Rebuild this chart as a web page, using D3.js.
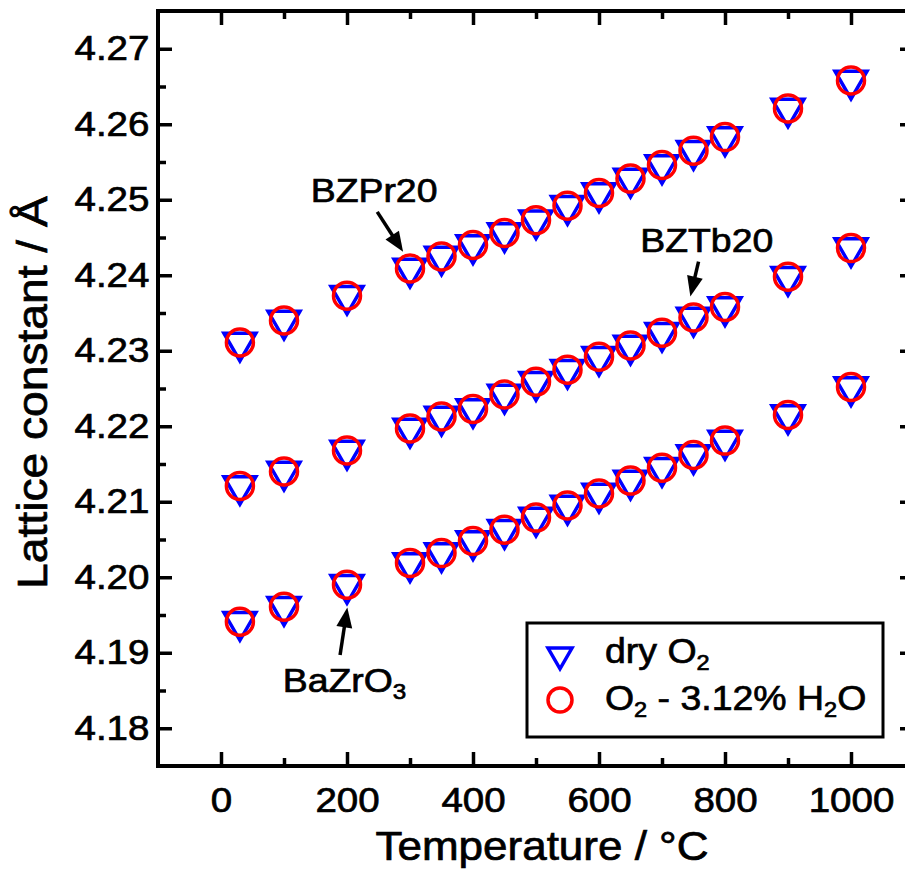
<!DOCTYPE html>
<html><head><meta charset="utf-8">
<script src="https://cdn.jsdelivr.net/npm/d3@7"></script>
<style>
html,body{margin:0;padding:0;background:#fff;overflow:hidden}
svg{display:block}
text{font-family:"Liberation Sans",Arial,sans-serif;fill:#000;stroke:#000;stroke-width:0.7px}
.sx{transform-box:fill-box;transform-origin:center;transform:scaleX(1.1)}
.sxl{transform-box:fill-box;transform-origin:left center;transform:scaleX(1.07)}
</style></head><body>
<svg id="c" width="905" height="873"></svg>
<script>
// ---- data ----
const temperatures=[30,100,200,300,350,400,450,500,550,600,650,700,750,800,900,1000];
const bzpr20Dry=[4.2311,4.2340,4.2373,4.2409,4.2425,4.2440,4.2456,4.2473,4.2492,4.2509,4.2528,4.2546,4.2565,4.2583,4.2621,4.2658];
const bzpr20Wet=[4.2311,4.2340,4.2373,4.2409,4.2425,4.2440,4.2456,4.2473,4.2492,4.2509,4.2528,4.2546,4.2565,4.2583,4.2621,4.2658];
const bztb20Dry=[4.2121,4.2140,4.2168,4.2197,4.2213,4.2223,4.2242,4.2259,4.2275,4.2292,4.2307,4.2324,4.2344,4.2358,4.2398,4.2436];
const bztb20Wet=[4.2121,4.2140,4.2168,4.2197,4.2213,4.2223,4.2242,4.2259,4.2275,4.2292,4.2307,4.2324,4.2344,4.2358,4.2398,4.2436];
const bazro3Dry=[4.1941,4.1961,4.1990,4.2019,4.2032,4.2048,4.2063,4.2079,4.2095,4.2111,4.2128,4.2145,4.2162,4.2181,4.2215,4.2252];
const bazro3Wet=[4.1941,4.1961,4.1990,4.2019,4.2032,4.2048,4.2063,4.2079,4.2095,4.2111,4.2128,4.2145,4.2162,4.2181,4.2215,4.2252];
const xMajorTicks=[0,200,400,600,800,1000];
const xMinorTicks=[100,300,500,700,900];
const yMajorTicks=[4.18,4.19,4.20,4.21,4.22,4.23,4.24,4.25,4.26,4.27];
const yMinorTicks=[4.185,4.195,4.205,4.215,4.225,4.235,4.245,4.255,4.265];
const xLabel="Temperature / \u00B0C";
const yLabel="Lattice constant / \u00C5";
// annotations: [label, labelX, labelY, tailX, tailY, tipX, tipY, subscript]
const annotations=[
  ["BZPr20",243,4.2497,248,4.2484,289,4.2431,""],
  ["BZTb20",771,4.2431,758,4.2418,745,4.2372,""],
  ["BaZrO",196,4.1848,189,4.1897,200.5,4.1960,"3"]
];

// ---- layout ----
const svg=d3.select("#c");
const L=158,T=11,R=914,B=766;
const x=d3.scaleLinear().domain([-100,1100]).range([L,R]);
const y=d3.scaleLinear().domain([4.175,4.275]).range([B,T]);
const MAJ=14,MIN=8,TW=3.5;

function styleAxis(g){
  g.select(".domain").remove();
  g.selectAll(".tick line").attr("stroke","#000").attr("stroke-width",TW);
}
svg.append("g").attr("transform",`translate(${L},0)`)
  .call(d3.axisLeft(y).tickValues(yMajorTicks).tickSize(-MAJ).tickPadding(12).tickFormat(d3.format(".2f")))
  .call(styleAxis).call(g=>g.selectAll("text").attr("class","sx").style("font-size","35px").attr("fill","#000"));
svg.append("g").attr("transform",`translate(${L},0)`)
  .call(d3.axisLeft(y).tickValues(yMinorTicks).tickSize(-MIN).tickFormat("")).call(styleAxis);
svg.append("g").attr("transform",`translate(${R},0)`)
  .call(d3.axisRight(y).tickValues(yMajorTicks).tickSize(-MAJ).tickFormat("")).call(styleAxis);
svg.append("g").attr("transform",`translate(${R},0)`)
  .call(d3.axisRight(y).tickValues(yMinorTicks).tickSize(-MIN).tickFormat("")).call(styleAxis);
svg.append("g").attr("transform",`translate(0,${B})`)
  .call(d3.axisBottom(x).tickValues(xMajorTicks).tickSize(-MAJ).tickPadding(21).tickFormat(d3.format("d")))
  .call(styleAxis).call(g=>g.selectAll("text").attr("class","sx").style("font-size","35px").attr("fill","#000"));
svg.append("g").attr("transform",`translate(0,${B})`)
  .call(d3.axisBottom(x).tickValues(xMinorTicks).tickSize(-MIN).tickFormat("")).call(styleAxis);
svg.append("g").attr("transform",`translate(0,${T})`)
  .call(d3.axisTop(x).tickValues(xMajorTicks).tickSize(-MAJ).tickFormat("")).call(styleAxis);
svg.append("g").attr("transform",`translate(0,${T})`)
  .call(d3.axisTop(x).tickValues(xMinorTicks).tickSize(-MIN).tickFormat("")).call(styleAxis);

svg.append("rect").attr("x",L).attr("y",T).attr("width",R-L).attr("height",B-T)
  .attr("fill","none").attr("stroke","#000").attr("stroke-width",4);

// axis labels
svg.append("text").attr("class","sx").attr("x",(L+R)/2+6).attr("y",860).attr("text-anchor","middle")
  .style("font-size","40px").text(xLabel);
svg.append("g").attr("transform",`translate(47,${(T+B)/2+4}) rotate(-90)`)
  .append("text").attr("class","sx").attr("text-anchor","middle").style("font-size","42px").text(yLabel);

// markers
function triPath(s){ // downward triangle centred on centroid, side s
  const h=s*Math.sqrt(3)/2;
  return `M${-s/2},${-h/3}L${s/2},${-h/3}L0,${2*h/3}Z`;
}
const dryAll=[bzpr20Dry,bztb20Dry,bazro3Dry];
const wetAll=[bzpr20Wet,bztb20Wet,bazro3Wet];
const gDry=svg.append("g");
dryAll.forEach(arr=>{
  gDry.selectAll(null).data(temperatures.map((t,i)=>[t,arr[i]])).enter().append("path")
    .attr("d",triPath(32)).attr("transform",d=>`translate(${x(d[0])},${y(d[1])})`)
    .attr("fill","none").attr("stroke","#0000ff").attr("stroke-width",3.5);
});
const gWet=svg.append("g");
wetAll.forEach(arr=>{
  gWet.selectAll(null).data(temperatures.map((t,i)=>[t,arr[i]])).enter().append("circle")
    .attr("cx",d=>x(d[0])).attr("cy",d=>y(d[1])).attr("r",13.5)
    .attr("fill","none").attr("stroke","#ff0000").attr("stroke-width",3.5);
});

// annotations
annotations.forEach(a=>{
  const t=svg.append("text").attr("class","sx").attr("x",x(a[1])).attr("y",y(a[2]))
    .attr("text-anchor","middle").style("font-size","34px").text(a[0]);
  if(a[7]) t.append("tspan").attr("dy",7).style("font-size","22px").text(a[7]);
  const x1=x(a[3]),y1=y(a[4]),x2=x(a[5]),y2=y(a[6]);
  const dx=x2-x1,dy=y2-y1,len=Math.hypot(dx,dy),ux=dx/len,uy=dy/len;
  const hl=20,hw=8;
  const bx=x2-ux*hl,by=y2-uy*hl;
  svg.append("line").attr("x1",x1).attr("y1",y1).attr("x2",bx+ux*2).attr("y2",by+uy*2)
    .attr("stroke","#000").attr("stroke-width",3.5);
  svg.append("path").attr("d",`M${x2},${y2}L${bx-uy*hw},${by+ux*hw}L${bx+uy*hw},${by-ux*hw}Z`).attr("fill","#000");
});

// legend
const lg=svg.append("g");
lg.append("rect").attr("x",527).attr("y",623).attr("width",356).attr("height",114)
  .attr("fill","#fff").attr("stroke","#000").attr("stroke-width",3);
lg.append("path").attr("d",triPath(24)).attr("transform","translate(560,655)")
  .attr("fill","none").attr("stroke","#0000ff").attr("stroke-width",3.5);
lg.append("circle").attr("cx",560).attr("cy",700).attr("r",12).attr("fill","none")
  .attr("stroke","#ff0000").attr("stroke-width",3.5);
const t1=lg.append("text").attr("class","sxl").attr("x",605).attr("y",663).style("font-size","35px");
t1.append("tspan").text("dry O");
t1.append("tspan").attr("dy",7).style("font-size","22px").text("2");
const t2=lg.append("text").attr("class","sxl").attr("x",605).attr("y",710).style("font-size","35px");
t2.append("tspan").text("O");
t2.append("tspan").attr("dy",7).style("font-size","22px").text("2");
t2.append("tspan").attr("dy",-7).text(" - 3.12% H");
t2.append("tspan").attr("dy",7).style("font-size","22px").text("2");
t2.append("tspan").attr("dy",-7).text("O");
</script>
</body></html>
